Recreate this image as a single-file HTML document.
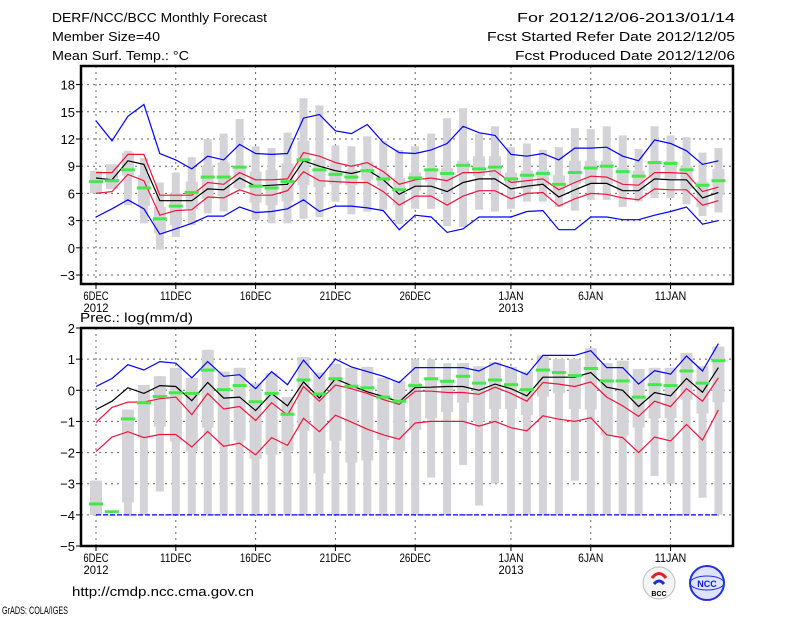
<!DOCTYPE html>
<html><head><meta charset="utf-8"><style>
html,body{margin:0;padding:0;background:#fff;}
svg{display:block;font-family:"Liberation Sans",sans-serif;}
</style></head><body>
<svg id="chart" width="800" height="618" viewBox="0 0 800 618">
<g font-size="13" fill="#000">
<text x="52" y="22" textLength="215" lengthAdjust="spacingAndGlyphs">DERF/NCC/BCC Monthly Forecast</text>
<text x="52" y="41" textLength="108" lengthAdjust="spacingAndGlyphs">Member Size=40</text>
<text x="52" y="60" textLength="137" lengthAdjust="spacingAndGlyphs">Mean Surf. Temp.: °C</text>
<text x="735" y="22" text-anchor="end" textLength="218" lengthAdjust="spacingAndGlyphs">For 2012/12/06-2013/01/14</text>
<text x="735" y="41" text-anchor="end" textLength="248" lengthAdjust="spacingAndGlyphs">Fcst Started Refer Date 2012/12/05</text>
<text x="735" y="60" text-anchor="end" textLength="220" lengthAdjust="spacingAndGlyphs">Fcst Produced Date 2012/12/06</text>
</g>
<text x="80" y="322" font-size="13" textLength="113" lengthAdjust="spacingAndGlyphs">Prec.: log(mm/d)</text>
<text x="72" y="596" font-size="13" textLength="182" lengthAdjust="spacingAndGlyphs">http://cmdp.ncc.cma.gov.cn</text>
<text x="2" y="614" font-size="11" textLength="66" lengthAdjust="spacingAndGlyphs">GrADS: COLA/IGES</text>
<g>
<circle cx="659" cy="583" r="16" fill="#f4f4f4" stroke="#bbb"/>
<path d="M652 578 q7 -9 14 0" stroke="#e02020" stroke-width="3" fill="none"/>
<path d="M654 584 q5 -6 10 0" stroke="#2030c0" stroke-width="3" fill="none"/>
<text x="659" y="596" font-size="7" text-anchor="middle" font-weight="bold">BCC</text>
</g>
<g>
<circle cx="707" cy="583" r="17" fill="#dfe3ff" stroke="#2030e0" stroke-width="2"/>
<ellipse cx="707" cy="583" rx="17" ry="7" fill="none" stroke="#2030e0"/>
<text x="707" y="587" font-size="9" text-anchor="middle" fill="#1020d0" font-weight="bold">NCC</text>
</g>
</svg>
<script>
const dayLabels=["6DEC","11DEC","16DEC","21DEC","26DEC","1JAN","6JAN","11JAN"];
const dayLabelIdx=[0,5,10,15,20,26,31,36];
const yearLabels=["2012","2013"];
const yearLabelIdx=[0,26];
const tTicks=[18,15,12,9,6,3,0,-3];
const pTicks=[2,1,0,-1,-2,-3,-4,-5];

const tMax=[14.0,11.8,14.5,15.8,10.4,9.7,8.7,10.1,9.7,11.4,10.4,10.3,10.4,14.3,14.7,12.9,12.6,13.6,11.6,10.5,10.4,10.8,11.5,13.4,12.7,12.4,10.3,10.1,10.4,9.7,11.0,11.0,11.1,10.1,9.6,11.9,11.5,10.7,9.2,9.6];
const tRedU=[8.3,8.3,10.3,10.3,5.8,5.8,5.8,7.2,7.0,8.3,7.5,7.5,7.6,10.5,10.1,9.4,9.0,9.4,8.4,7.0,7.5,7.7,7.4,8.3,8.3,8.5,7.2,7.4,7.6,6.4,7.2,7.9,7.8,7.0,6.9,8.3,8.3,8.2,6.2,6.7];
const tMean=[7.7,7.5,9.6,9.2,5.2,5.2,5.2,6.5,6.4,7.7,6.8,6.9,7.0,9.6,9.0,8.5,8.2,8.6,7.5,5.9,6.8,6.8,6.2,7.2,7.6,7.6,6.5,6.8,7.0,5.6,6.4,7.1,7.1,6.3,6.3,7.6,7.5,7.5,5.5,6.1];
const tRedL=[6.0,6.2,8.1,7.4,3.6,4.1,4.2,5.6,5.5,6.4,5.8,5.8,6.3,8.4,7.4,7.3,7.2,7.2,6.2,4.7,5.7,5.7,4.7,5.7,6.3,6.3,5.4,6.0,6.1,4.6,5.4,6.0,5.9,5.5,5.3,6.5,6.4,6.4,4.7,5.2];
const tMin=[3.4,4.3,5.3,4.3,1.5,2.1,2.7,3.5,3.5,4.5,3.9,4.0,4.3,5.3,4.0,4.6,4.6,4.4,4.1,2.0,3.6,3.4,1.7,2.1,3.4,3.4,3.4,4.0,4.1,2.0,2.0,3.4,3.4,3.1,3.1,3.6,4.0,4.5,2.6,3.0];
const tBarHi=[8.5,9.2,10.7,9.9,7.2,8.3,10.0,12.0,12.6,14.2,11.2,11.0,12.7,16.5,15.7,11.3,11.2,12.3,11.8,10.8,11.2,12.6,14.3,15.4,12.6,13.4,11.1,11.5,10.8,11.1,13.2,13.1,13.4,12.4,10.9,13.4,12.4,12.2,10.5,11.0];
const tBarLo=[6.0,6.5,4.7,2.7,-0.2,1.2,2.5,3.8,4.0,6.5,3.1,2.7,2.7,3.2,3.4,5.1,3.7,4.0,4.2,2.6,4.3,4.3,2.4,2.3,4.2,4.0,4.3,5.1,5.1,4.5,4.1,5.3,5.3,4.5,5.1,5.5,5.5,4.8,3.5,3.9];
const tBoxHi=[8.5,9.2,10.5,8.0,4.5,6.0,7.3,9.1,9.4,8.8,8.4,8.6,9.3,11.8,9.7,9.3,8.6,9.5,8.2,7.7,8.3,8.6,8.8,9.6,10.1,10.1,8.3,8.5,8.6,8.0,9.6,9.6,9.6,8.8,8.5,9.6,9.6,9.0,7.3,8.7];
const tBoxLo=[6.0,6.5,8.0,4.6,1.6,2.5,4.3,5.4,5.7,6.6,5.0,4.7,5.1,6.9,6.7,7.0,6.9,7.5,6.8,4.7,6.3,7.3,6.0,8.2,7.9,7.9,6.8,6.5,6.8,5.8,7.0,7.0,7.0,6.2,6.3,7.7,7.5,6.5,4.5,5.8];
const tObs=[7.3,7.4,8.6,6.6,3.2,4.6,6.1,7.8,7.8,8.9,6.8,6.6,7.3,9.7,8.6,8.1,7.8,8.5,7.6,6.4,7.7,8.6,8.2,9.1,8.7,8.9,7.6,8.0,8.2,7.0,8.3,8.8,9.0,8.4,7.9,9.4,9.3,8.6,6.9,7.4];

const pMax=[0.12,0.38,0.82,0.65,0.92,0.87,0.4,0.92,0.45,0.5,0.05,0.6,0.18,0.97,0.38,1.0,0.75,0.6,0.45,0.25,0.73,0.73,0.73,0.73,0.62,0.88,0.72,0.5,1.12,1.12,1.12,1.27,0.73,0.73,0.2,0.63,0.52,1.1,0.62,1.5];
const pMean=[-0.62,-0.35,0.08,-0.1,0.15,0.12,-0.33,0.25,-0.25,-0.22,-0.65,-0.1,-0.5,0.27,-0.25,0.37,0.15,-0.05,-0.2,-0.37,0.09,0.1,0.12,0.12,0.0,0.2,0.05,-0.18,0.42,0.42,0.42,0.57,0.1,0.0,-0.52,-0.07,-0.18,0.38,-0.06,0.73];
const pRedU=[-1.03,-0.55,-0.38,-0.38,-0.27,-0.22,-0.78,-0.1,-0.6,-0.52,-0.97,-0.4,-0.8,0.12,-0.35,0.17,0.05,-0.1,-0.3,-0.45,-0.03,-0.03,-0.07,-0.07,-0.13,0.1,-0.1,-0.35,0.25,0.2,0.12,0.27,-0.22,-0.5,-0.84,-0.35,-0.52,0.05,-0.35,0.4];
const pRedL=[-1.97,-1.5,-1.33,-1.52,-1.42,-1.42,-1.82,-1.32,-1.8,-1.7,-2.07,-1.52,-1.77,-0.9,-1.33,-0.8,-1.02,-1.25,-1.43,-1.57,-1.05,-1.0,-1.0,-1.0,-1.15,-1.0,-1.2,-1.3,-0.82,-0.93,-1.0,-0.88,-1.43,-1.52,-2.0,-1.5,-1.63,-1.1,-1.6,-0.63];
const pMin=[-4,-4,-4,-4,-4,-4,-4,-4,-4,-4,-4,-4,-4,-4,-4,-4,-4,-4,-4,-4,-4,-4,-4,-4,-4,-4,-4,-4,-4,-4,-4,-4,-4,-4,-4,-4,-4,-4,-4,-4];
const pBarHi=[-2.9,-4,-0.62,0.17,0.45,0.72,0.4,1.3,0.6,0.72,0.22,0.55,-0.22,1.07,0.57,0.85,0.72,0.75,0.4,0.3,1.0,1.0,0.87,0.87,0.77,0.9,0.75,0.6,1.12,1.0,1.0,1.35,0.87,0.95,0.68,0.72,0.72,1.2,0.77,1.4];
const pBarLo=[-4,-4,-4,-4,-3.25,-4,-4,-4,-4,-4,-4,-4,-4,-4,-4,-4,-4,-4,-4,-4,-4,-2.8,-4,-2.4,-3.7,-2.99,-4,-4,-4,-4,-2.9,-4,-4,-4,-4,-2.75,-3.0,-4,-3.45,-4];
const pBoxHi=[-2.9,-4,-0.62,0.17,0.45,0.72,0.4,1.3,0.6,0.72,0.22,0.55,-0.22,1.07,0.57,0.85,0.72,0.75,0.4,0.3,0.24,0.38,0.27,0.87,0.77,0.9,0.75,0.6,1.12,1.0,1.0,1.35,0.87,0.95,0.68,0.72,0.72,1.2,0.77,1.4];
const pBoxLo=[-4,-4,-3.6,-1.52,-1.17,-1.65,-1.95,-1.2,-1.75,-1.62,-2.2,-2.07,-1.95,-1.3,-2.67,-1.62,-2.32,-2.25,-1.6,-1.95,-1.27,-0.9,-0.7,-0.4,-1.0,-0.6,-0.6,-0.8,-0.2,-0.1,-0.6,-0.62,-1.45,-1.45,-1.2,-0.9,-0.9,-0.3,-0.75,-0.38];
const pObs=[-3.65,-3.9,-0.92,-0.4,-0.2,-0.08,-0.1,0.65,0.02,0.15,-0.37,-0.1,-0.77,0.33,-0.12,0.37,0.13,0.08,-0.22,-0.35,0.15,0.37,0.29,0.45,0.23,0.33,0.18,0.02,0.65,0.57,0.47,0.7,0.3,0.3,-0.22,0.18,0.15,0.62,0.23,0.95];

const NS="http://www.w3.org/2000/svg";
const svg=document.getElementById("chart");
const X0=81,X1=733;
function xDay(i){return 96+i*15.96;}
function mk(tag,attrs,parent){const e=document.createElementNS(NS,tag);for(const k in attrs)e.setAttribute(k,attrs[k]);parent.appendChild(e);return e;}

function panel(cfg){
  const g=mk("g",{},svg);
  
  
  const y=v=>cfg.y0-(v-cfg.vmin)*(cfg.y0-cfg.y1)/(cfg.vmax-cfg.vmin);
  cfg.ticks.forEach(t=>{
    if(t>cfg.vmin&&t<cfg.vmax){const l=mk("line",{x1:X0,x2:X1,y1:y(t),y2:y(t),stroke:"#666","stroke-dasharray":"2,4","stroke-width":1},g);
      
      }
    const tk=mk("line",{x1:X0-5,x2:X0,y1:y(t),y2:y(t),stroke:"#000"},g);
    
    
    const tx=mk("text",{x:X0-6,y:y(t)+5,"text-anchor":"end","font-size":"13"},g);
    tx.textContent=(t<0?"\u2212"+(-t):String(t));
    
    
  });
  dayLabelIdx.forEach((d,k)=>{
    const l=mk("line",{x1:xDay(d),x2:xDay(d),y1:cfg.y1,y2:cfg.y0,stroke:"#666","stroke-dasharray":"2,4"},g);
    
    
    const tk=mk("line",{x1:xDay(d),x2:xDay(d),y1:cfg.y0,y2:cfg.y0+5,stroke:"#000"},g);
    
    
    const tx=mk("text",{x:xDay(d),y:cfg.y0+16,"text-anchor":"middle","font-size":"12",textLength:dayLabels[k].length*6.3,lengthAdjust:"spacingAndGlyphs"},g);
    tx.textContent=dayLabels[k];
    
    
  });
  yearLabelIdx.forEach((d,k)=>{
    const tx=mk("text",{x:xDay(d),y:cfg.y0+28,"text-anchor":"middle","font-size":"12",textLength:25,lengthAdjust:"spacingAndGlyphs"},g);
    tx.textContent=yearLabels[k];
    
    
  });
  for(let i=0;i<cfg.barHi.length;i++){
    const x=xDay(i);
    const hi=y(cfg.barHi[i]),lo=y(cfg.barLo[i]);
    const b=mk("rect",{x:x-4,y:hi,width:8,height:Math.max(1,lo-hi),fill:"#d4d4d8"},g);
    
    
    const bh=y(cfg.boxHi[i]),bl=y(cfg.boxLo[i]);
    const bx=mk("rect",{x:x-6,y:bh,width:12,height:Math.max(0,bl-bh),fill:"#d4d4d8"},g);
    
    
  }
  const series=[[cfg.max,"#0000ff","max-line"],[cfg.redU,"#f0143c","upper-line"],[cfg.mean,"#000","mean-line"],[cfg.redL,"#f0143c","lower-line"],[cfg.min,"#0000ff","min-line"]];
  series.forEach(s=>{
    const pts=s[0].map((v,i)=>xDay(i).toFixed(1)+","+y(v).toFixed(1)).join(" ");
    const attrs={points:pts,fill:"none",stroke:s[1],"stroke-width":1.2};
    if(cfg.minDashed&&s[2]==="min-line")attrs["stroke-dasharray"]="5,2";
    const p=mk("polyline",attrs,g);
    
    
  });
  cfg.obs.forEach((v,i)=>{
    const r=mk("rect",{x:xDay(i)-7,y:y(v)-1.5,width:14,height:3,fill:"#44e84a"},g);
    
    
  });
  const fr=mk("rect",{x:X0,y:cfg.y1,width:X1-X0,height:cfg.y0-cfg.y1,fill:"none",stroke:"#000","stroke-width":2.5},g);
  
  
}
panel({name:"temperature-panel",y0:284,y1:66,vmin:-3.99,vmax:20.05,ticks:tTicks,barHi:tBarHi,barLo:tBarLo,boxHi:tBoxHi,boxLo:tBoxLo,max:tMax,redU:tRedU,mean:tMean,redL:tRedL,min:tMin,obs:tObs});
panel({name:"precipitation-panel",y0:546,y1:328,vmin:-5,vmax:2,ticks:pTicks,barHi:pBarHi,barLo:pBarLo,boxHi:pBoxHi,boxLo:pBoxLo,max:pMax,redU:pRedU,mean:pMean,redL:pRedL,min:pMin,obs:pObs,minDashed:true});
</script>
</body></html>
